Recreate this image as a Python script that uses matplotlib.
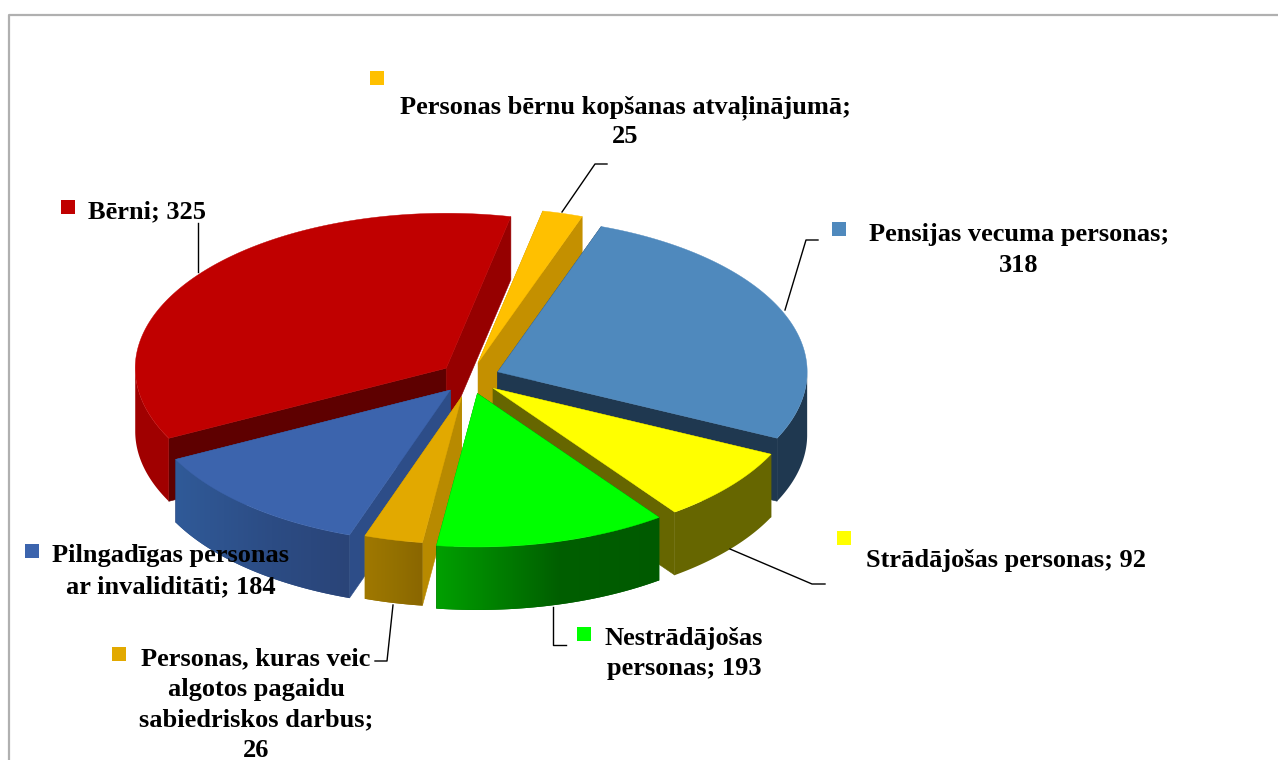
import numpy as np
import matplotlib
matplotlib.use("Agg")
import matplotlib.pyplot as plt
from matplotlib.patches import Polygon, Rectangle

# ---- data (clockwise from the top slice) ----
categories = ["Personas bērnu kopšanas atvaļinājumā", "Pensijas vecuma personas",
              "Strādājošas personas", "Nestrādājošas personas",
              "Personas, kuras veic algotos pagaidu sabiedriskos darbus",
              "Pilngadīgas personas ar invaliditāti", "Bērni"]
values = [25, 318, 92, 193, 26, 184, 325]

top_colors = ["#ffc000", "#4f89bd", "#ffff00", "#00ff00", "#e2a900", "#3c64ad", "#c00000"]
# wall shading: colour at the clockwise start / middle / end of each slice
wall_a = ["#a07800", "#1f3850", "#666600", "#005a00", "#8a6600", "#2a4478", "#a00000"]
wall_m = ["#a07800", "#1f3850", "#666600", "#005f00", "#937000", "#2c4c84", "#a00000"]
wall_b = ["#a07800", "#1f3850", "#666600", "#00a000", "#a07800", "#305a98", "#a00000"]
face_start = ["#c49000", "#1f3850", "#666600", "#006000", "#b88a00", "#2d4d88", "#5e0000"]
face_end = ["#c49000", "#1f3850", "#666600", "#009000", "#b88a00", "#2d4d88", "#960000"]

# ---- view of the 3-D pie (pixels) ----
CX, CY = 470, 378
RX, RY = 311, 155
DEPTH = 63
EX, EY = 30, 16
explode = [1.0, 1.0, 1.0, 1.0, 1.2, 1.0, 1.0]
radius = [1.0, 0.995, 0.99, 0.99, 0.95, 0.99, 1.0]
START = 12.0
# the original's 3-D rendering foreshortens the front slices
WARP_IN = [12, 118.1, 146.6, 206.3, 214.3, 271.3, 372]
WARP_OUT = [12, 115.4, 143.8, 187.5, 199.0, 243.0, 372]
PAINT_ORDER = [0, 6, 1, 2, 5, 4, 3]

legend_keys = [(370, 71), (832, 222), (837, 531), (577, 627), (112, 647), (25, 544), (61, 200)]
key_colors = top_colors
label_lines = [
    [("Personas bērnu kopšanas atvaļinājumā;", 625, 113), ("25", 625, 143)],
    [("Pensijas vecuma personas;", 1019, 241), ("318", 1019, 272)],
    [("Strādājošas personas; 92", 1006, 567)],
    [("Nestrādājošas", 684, 645), ("personas; 193", 684, 675)],
    [("Personas, kuras veic", 256, 665), ("algotos pagaidu", 256, 696),
     ("sabiedriskos darbus;", 256, 726), ("26", 256, 757)],
    [("Pilngadīgas personas", 171, 562), ("ar invaliditāti; 184", 171, 593)],
    [("Bērni; 325", 147, 218)],
]
leaders = [
    [(562, 212), (595, 164), (607, 164)],
    [(785, 310), (806, 240), (818, 240)],
    [(730, 549), (812, 584), (825, 584)],
    [(553, 607), (553, 645), (566, 645)],
    [(393, 605), (387, 661), (375, 661)],
    [(198, 272), (198, 223)],
]

fig = plt.figure(figsize=(12.78, 7.6), dpi=100)
ax = fig.add_axes([0, 0, 1, 1])
ax.axis("off")

ax.plot([9, 9, 1278], [760, 15, 15], color="#b0b0b0", lw=1.6, solid_capstyle="butt", zorder=0)

total = sum(values)
bounds = START + 360.0 * np.concatenate([[0], np.cumsum(values)]) / total
bounds = np.interp(bounds, WARP_IN, WARP_OUT)


def rgb(h):
    return np.array(matplotlib.colors.to_rgb(h))


def pt(apex, r, t, dz=0.0):
    a = np.radians(t)
    return (apex[0] + r * RX * np.sin(a), apex[1] - r * RY * np.cos(a) + dz)


z = 1
for i in PAINT_ORDER:
    t0, t1 = bounds[i], bounds[i + 1]
    a = np.radians(0.5 * (t0 + t1))
    apex = (CX + explode[i] * EX * np.sin(a), CY - explode[i] * EY * np.cos(a))
    r = radius[i]
    for t, col in ((t0, face_start[i]), (t1, face_end[i])):
        p = pt(apex, r, t)
        ax.add_patch(Polygon([apex, p, (p[0], p[1] + DEPTH), (apex[0], apex[1] + DEPTH)], closed=True,
                             fc=col, ec=col, lw=0.4, zorder=z))
        z += 1
    # outer wall: only the part facing the viewer
    ts = np.linspace(t0, t1, 240)
    ts = ts[np.cos(np.radians(ts)) <= 0.0]
    if len(ts) > 1:
        upper = [pt(apex, r, t) for t in ts]
        lower = [pt(apex, r, t, DEPTH) for t in ts[::-1]]
        poly = Polygon(upper + lower, closed=True, fc=wall_m[i], ec="none", zorder=z)
        ax.add_patch(poly)
        xmin, xmax = min(p[0] for p in upper), max(p[0] for p in upper)
        ymin, ymax = min(p[1] for p in upper), max(p[1] for p in upper) + DEPTH
        # horizontal gradient: x runs from the clockwise end (left) to the start (right)
        if wall_a[i] != wall_b[i] and xmax > xmin:
            u = np.linspace(0, 1, 256)
            grad = np.stack([np.interp(u, [0, 0.55, 1],
                                       [rgb(wall_b[i])[c], rgb(wall_m[i])[c], rgb(wall_a[i])[c]])
                             for c in range(3)], axis=-1)[None, :, :]
            im = ax.imshow(grad, extent=(xmin, xmax, ymax, ymin), aspect="auto",
                           interpolation="bilinear", zorder=z)
            im.set_clip_path(poly)
    z += 1
    arc = [pt(apex, r, t) for t in np.linspace(t0, t1, 200)]
    ax.add_patch(Polygon([apex] + arc, closed=True, fc=top_colors[i], ec=top_colors[i], lw=0.3, zorder=z))
    z += 1

ax.set_xlim(0, 1278)
ax.set_ylim(760, 0)
ax.set_aspect("auto")

for path in leaders:
    xs, ys = zip(*path)
    ax.plot(xs, ys, color="black", lw=1.0, zorder=z)
z += 1

for (x, y), col in zip(legend_keys, key_colors):
    ax.add_patch(Rectangle((x, y), 14, 14, fc=col, ec="none", zorder=z))

for group in label_lines:
    for txt, x, y in group:
        ax.text(x, y, txt, ha="center", va="baseline", fontsize=19.0, fontweight="bold",
                family="Liberation Serif", color="black", zorder=z + 1)

fig.savefig("out.png", dpi=100, facecolor="white")
